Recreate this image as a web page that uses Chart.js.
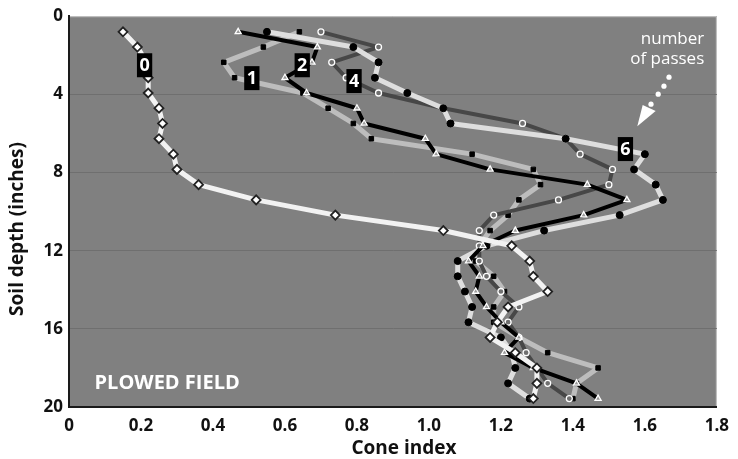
<!DOCTYPE html>
<html>
<head>
<meta charset="utf-8">
<script src="https://cdn.jsdelivr.net/npm/chart.js@4.4.1/dist/chart.umd.min.js"></script>
<style>
  html, body { margin: 0; padding: 0; background: #ffffff; }
  #wrap { width: 738px; height: 459px; }
</style>
</head>
<body>
<div id="wrap"><canvas id="chart" width="738" height="459"></canvas></div>
<script>
// ── Data (soil depth in inches, cone index per number of passes) ──
var depths = [0.80, 1.58, 2.36, 3.15, 3.93, 4.71, 5.49, 6.27, 7.06, 7.84, 8.62, 9.40, 10.18,
              10.97, 11.75, 12.53, 13.31, 14.09, 14.88, 15.66, 16.44, 17.22, 18.00, 18.79, 19.57];

var passes0 = [0.15, 0.19, 0.215, 0.22, 0.22, 0.25, 0.26, 0.25, 0.29, 0.30, 0.36, 0.52, 0.74,
               1.04, 1.23, 1.28, 1.29, 1.33, 1.22, 1.19, 1.17, 1.24, 1.30, 1.30, 1.29];
var passes1 = [0.64, 0.54, 0.43, 0.46, 0.65, 0.72, 0.79, 0.84, 1.12, 1.29, 1.31, 1.25, 1.22,
               1.17, 1.14, 1.13, 1.18, 1.21, 1.18, 1.18, 1.25, 1.33, 1.47, 1.41, 1.40];
var passes2 = [0.47, 0.69, 0.675, 0.60, 0.66, 0.80, 0.82, 0.99, 1.02, 1.17, 1.44, 1.55, 1.43,
               1.24, 1.15, 1.11, 1.14, 1.13, 1.16, 1.20, 1.25, 1.21, 1.29, 1.41, 1.47];
var passes4 = [0.70, 0.86, 0.73, 0.77, 0.86, 1.04, 1.26, 1.38, 1.42, 1.51, 1.50, 1.36, 1.18,
               1.14, 1.14, 1.14, 1.16, 1.20, 1.25, 1.22, 1.25, 1.27, 1.30, 1.33, 1.39];
var passes6 = [0.55, 0.79, 0.86, 0.85, 0.94, 1.04, 1.06, 1.38, 1.60, 1.57, 1.63, 1.65, 1.53,
               1.32, 1.16, 1.08, 1.08, 1.10, 1.12, 1.11, 1.20, 1.23, 1.24, 1.22, 1.28];

var xTicks = [0, 0.2, 0.4, 0.6, 0.8, 1.0, 1.2, 1.4, 1.6, 1.8];
var yTicks = [0, 4, 8, 12, 16, 20];

// series tags drawn in black boxes, anchored in data units
var tagNames = ["0", "1", "2", "4", "6"];
var tagX     = [0.21, 0.508, 0.648, 0.792, 1.546];
var tagY     = [2.51, 3.17, 2.51, 3.32, 6.8];

function pts(vals) {
  return vals.map(function(v, i) { return { x: v, y: depths[i] }; });
}

var FONT = "'Open Sans', sans-serif";

// ── Plugin: gray plot area, titles and annotations ─────────────
var decor = {
  id: "decor",
  beforeDraw: function(chart) {
    var a = chart.chartArea, c = chart.ctx;
    c.save();
    c.fillStyle = "#808080";
    c.fillRect(a.left, a.top, a.right - a.left, a.bottom - a.top);
    c.strokeStyle = "#c8c8c8";
    c.lineWidth = 1;
    c.beginPath();
    c.moveTo(a.left, a.top + 0.5); c.lineTo(a.right - 0.5, a.top + 0.5); c.lineTo(a.right - 0.5, a.bottom);
    c.stroke();
    c.restore();
  },
  afterDraw: function(chart) {
    var c = chart.ctx, xs = chart.scales.x, ys = chart.scales.y;
    c.save();

    // axis titles
    c.fillStyle = "#111";
    c.font = "bold 19px " + FONT;
    c.textAlign = "center";
    c.textBaseline = "middle";
    c.fillText("Cone index", 404, 449);
    c.save();
    c.translate(18, 229);
    c.rotate(-Math.PI / 2);
    c.fillText("Soil depth (inches)", 0, 0);
    c.restore();

    // series tags
    c.font = "bold 18px " + FONT;
    for (var i = 0; i < tagNames.length; i++) {
      var px = xs.getPixelForValue(tagX[i]);
      var py = ys.getPixelForValue(tagY[i]);
      var w = c.measureText(tagNames[i]).width + 5;
      c.fillStyle = "#000";
      c.fillRect(px - w / 2, py - 12, w, 24);
      c.fillStyle = "#fff";
      c.fillText(tagNames[i], px, py + 1);
    }

    // "number of passes" note with dotted arrow
    c.fillStyle = "#fff";
    c.font = "17px " + FONT;
    c.textAlign = "right";
    c.fillText("number", xs.getPixelForValue(1.765), ys.getPixelForValue(1.2));
    c.fillText("of passes", xs.getPixelForValue(1.765), ys.getPixelForValue(2.2));

    var dotsX = [1.667, 1.653, 1.637, 1.617];
    var dotsY = [3.12, 3.58, 3.99, 4.50];
    for (var d = 0; d < dotsX.length; d++) {
      c.beginPath();
      c.arc(xs.getPixelForValue(dotsX[d]), ys.getPixelForValue(dotsY[d]), 2.6, 0, Math.PI * 2);
      c.fill();
    }
    c.beginPath();
    c.moveTo(xs.getPixelForValue(1.579), ys.getPixelForValue(5.63));
    c.lineTo(xs.getPixelForValue(1.594), ys.getPixelForValue(4.55));
    c.lineTo(xs.getPixelForValue(1.630), ys.getPixelForValue(4.85));
    c.closePath();
    c.fill();

    // field label
    c.font = "bold 20px " + FONT;
    c.textAlign = "left";
    c.fillText("PLOWED FIELD", xs.getPixelForValue(0.071), ys.getPixelForValue(18.77));
    c.restore();
  }
};

new Chart(document.getElementById("chart"), {
  type: "scatter",
  data: {
    datasets: [
      { label: "0", data: pts(passes0), showLine: true, borderColor: "#f2f2f2", borderWidth: 5,
        pointStyle: "rectRot", pointRadius: 4.5, pointBackgroundColor: "#ffffff",
        pointBorderColor: "#222", pointBorderWidth: 1.8 },
      { label: "2", data: pts(passes2), showLine: true, borderColor: "#000000", borderWidth: 4,
        pointStyle: "triangle", pointRadius: 3.5, pointBackgroundColor: "#9a9a9a",
        pointBorderColor: "#ffffff", pointBorderWidth: 1.3 },
      { label: "6", data: pts(passes6), showLine: true, borderColor: "#dedede", borderWidth: 5,
        pointStyle: "circle", pointRadius: 3.5, pointBackgroundColor: "#000000",
        pointBorderColor: "#000000", pointBorderWidth: 1 },
      { label: "4", data: pts(passes4), showLine: true, borderColor: "#474747", borderWidth: 4,
        pointStyle: "circle", pointRadius: 3, pointBackgroundColor: "#707070",
        pointBorderColor: "#ffffff", pointBorderWidth: 1.3 },
      { label: "1", data: pts(passes1), showLine: true, borderColor: "#bdbdbd", borderWidth: 5,
        pointStyle: "rect", pointRadius: 3.2, pointBackgroundColor: "#000000",
        pointBorderColor: "#000000", pointBorderWidth: 1 }
    ]
  },
  options: {
    responsive: false,
    animation: false,
    layout: { padding: { top: 16, right: 10, left: 0, bottom: 0 } },
    plugins: { legend: { display: false }, tooltip: { enabled: false } },
    elements: { line: { tension: 0, borderJoinStyle: "round", borderCapStyle: "round" } },
    scales: {
      x: {
        type: "linear", min: 0, max: 1.8,
        afterBuildTicks: function(s) { s.ticks = xTicks.map(function(v) { return { value: v }; }); },
        afterFit: function(s) { s.height = 52; },
        grid: { display: false, drawTicks: false },
        border: { display: true, color: "#1a1a1a", width: 2 },
        ticks: {
          padding: 9, color: "#111", font: { family: FONT, weight: "bold", size: 17 },
          maxRotation: 0, autoSkip: false,
          callback: function(v) { return v === 0 ? "0" : v.toFixed(1); }
        }
      },
      y: {
        type: "linear", min: 0, max: 20, reverse: true,
        afterBuildTicks: function(s) { s.ticks = yTicks.map(function(v) { return { value: v }; }); },
        afterFit: function(s) { s.width = 69; },
        grid: {
          drawTicks: false, lineWidth: 1,
          color: function(ctx) {
            var v = ctx.tick && ctx.tick.value;
            return (v === 0 || v === 20) ? "rgba(0,0,0,0)" : "#6f6f6f";
          }
        },
        border: { display: true, color: "#1a1a1a", width: 2 },
        ticks: {
          padding: 6, color: "#111", font: { family: FONT, weight: "bold", size: 17 },
          autoSkip: false
        }
      }
    }
  },
  plugins: [decor]
});
</script>
</body>
</html>
